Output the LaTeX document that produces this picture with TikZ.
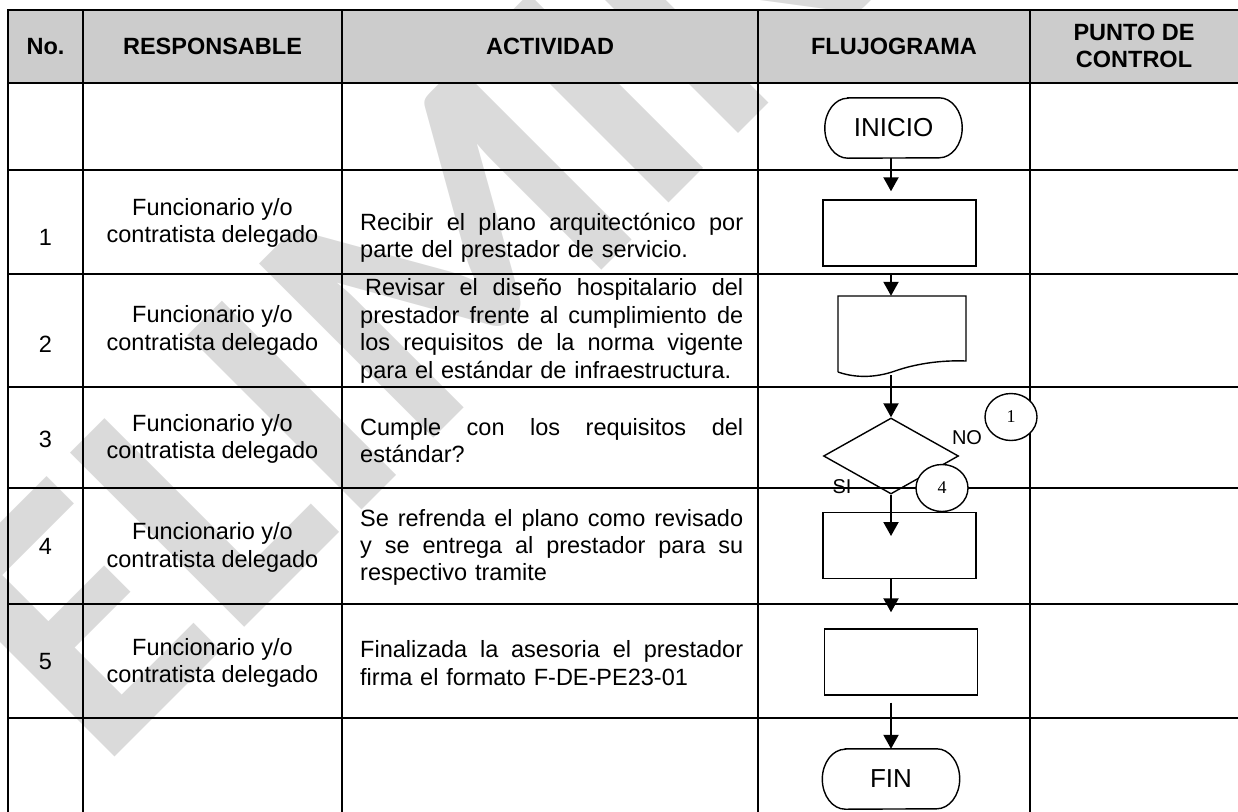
\documentclass[tikz,border=0pt]{standalone}
\usepackage{fontspec}
\setmainfont{Liberation Sans}
\newfontfamily\numserif{Liberation Serif}
\newfontfamily\wmfont{Carlito}
\usetikzlibrary{arrows.meta,shapes.geometric}
\definecolor{hdrgray}{RGB}{204,204,204}
\definecolor{wmgray}{RGB}{218,218,218}
\newcommand\jl[1]{\leavevmode\hbox to 383pt{\spaceskip=0.278em plus 1fil\relax #1}}
\begin{document}
\begin{tikzpicture}[x=1pt,y=-1pt,
  rule/.style={line width=2pt, line cap=rect},
  body/.style={font=\fontsize{23.5}{27.4}\selectfont, inner sep=0pt, align=center},
  head/.style={font=\bfseries\fontsize{23.5}{27.5}\selectfont, inner sep=0pt, align=center},
  act/.style={font=\fontsize{23.5}{27.4}\selectfont, inner sep=0pt, anchor=west, text width=383pt, align=left},
  proc/.style={draw, line width=1.4pt, inner sep=0pt, minimum width=153pt, minimum height=66pt},
  term/.style={inner sep=0pt, minimum width=137pt, minimum height=60pt, font=\fontsize{26}{26}\selectfont},
  termline/.style={line width=1.4pt},
  dec/.style={draw, diamond, line width=1.4pt, inner sep=0pt, minimum width=135pt, minimum height=76pt},
  conn/.style={draw, ellipse, fill=white, line width=1.4pt, inner sep=0pt, minimum width=52pt, minimum height=47pt, font=\numserif\fontsize{18}{18}\selectfont},
  lbl/.style={font=\fontsize{20}{20}\selectfont, inner sep=0pt},
  arr/.style={line width=2pt, -{Triangle[width=15pt,length=14pt]}},
  wm/.style={text=wmgray, font=\wmfont\bfseries\fontsize{380}{380}\selectfont, inner sep=0pt},
]
\useasboundingbox (0,0) rectangle (1238,811);
% watermark
\begin{scope}
  \clip (0,0) rectangle (1238,811);
  \node[wm, rotate=45, anchor=base west] (wmk) at (99,773) {ELIMINADO};
\end{scope}
% header background
\fill[hdrgray] (8,10) rectangle (1238,83);
% grid
\foreach \y in {10,83,170,274,387,488,604,718} \draw[rule] (8,\y) -- (1238,\y);
\foreach \x in {8,83,342,758,1030} \draw[rule] (\x,10) -- (\x,811);
% header
\node[head] (hno) at (45.5,46.5) {No.};
\node[head] (hresp) at (212.5,46.5) {RESPONSABLE};
\node[head] (hact) at (550,46.5) {ACTIVIDAD};
\node[head] (hflu) at (894,46.5) {FLUJOGRAMA};
\node[head] (hpc) at (1134,46) {PUNTO DE\\CONTROL};
% rows
\node[body] (n1) at (45.5,237) {1};
\node[body] (r1) at (212.5,223) {Funcionario y/o\\contratista delegado};
\node[act] (a1) at (360,237.5) {\jl{Recibir el plano arquitectónico por}\\parte del prestador de servicio.};
\node[body] (n2) at (45.5,344) {2};
\node[body] (r2) at (212.5,330.5) {Funcionario y/o\\contratista delegado};
\node[act] (a2) at (360,331) {\jl{\hspace*{5pt}Revisar el diseño hospitalario del}\\\jl{prestador frente al cumplimiento de}\\\jl{los requisitos de la norma vigente}\\para el estándar de infraestructura.};
\node[body] (n3) at (45.5,439.5) {3};
\node[body] (r3) at (212.5,439) {Funcionario y/o\\contratista delegado};
\node[act] (a3) at (360,440.5) {\jl{Cumple con los requisitos del}\\estándar?};
\node[body] (n4) at (45.5,546) {4};
\node[body] (r4) at (212.5,547.5) {Funcionario y/o\\contratista delegado};
\node[act] (a4) at (360,547.5) {\jl{Se refrenda el plano como revisado}\\\jl{y se entrega al prestador para su}\\respectivo tramite};
\node[body] (n5) at (45.5,662) {5};
\node[body] (r5) at (212.5,663) {Funcionario y/o\\contratista delegado};
\node[act] (a5) at (360,663) {\jl{Finalizada la asesoria el prestador}\\firma el formato F-DE-PE23-01};
% flowchart
\coordinate (ax) at (891,0);
\node[term] (ini) at (893.5,128) {INICIO};
\draw[termline] ([xshift=23pt]ini.north west) -- ([xshift=-23pt]ini.north east)
  arc[start angle=-90, end angle=90, x radius=23, y radius=30]
  -- ([xshift=23pt]ini.south west)
  arc[start angle=90, end angle=270, x radius=23, y radius=30] -- cycle;
\node[proc] (b1) at (899.5,233) {};
\node[inner sep=0pt, minimum width=128pt, minimum height=79pt] (b2) at (902,335.5) {};
\draw[line width=1.4pt] (838,372) -- (838,296) -- (966,296) -- (966,361)
  .. controls (940,360) and (915,364) .. (895,371)
  .. controls (875,378) and (855,378) .. (838,372);
\node[dec] (dia) at (891,456) {};
\node[proc] (b4) at (899.5,545.5) {};
\node[proc] (b5) at (901,662) {};
\node[term] (fin) at (891,779) {FIN};
\draw[termline] ([xshift=23pt]fin.north west) -- ([xshift=-23pt]fin.north east)
  arc[start angle=-90, end angle=90, x radius=23, y radius=30]
  -- ([xshift=23pt]fin.south west)
  arc[start angle=90, end angle=270, x radius=23, y radius=30] -- cycle;
\coordinate (t4) at (891,536);
\draw[arr, shorten >=8pt] (ini.south -| ax) -- (b1.north -| ax);
\draw[arr, shorten <=8pt] (b1.south -| ax) -- (b2.north -| ax);
\draw[arr] (b2.south -| ax) -- (dia.north);
\draw[arr] (dia.south) -- (t4);
\draw[arr, shorten >=16pt] (b4.south -| ax) -- (b5.north -| ax);
\draw[arr, shorten <=7pt] (b5.south -| ax) -- (fin.north);
\node[lbl] (no) at (967,438) {NO};
\node[lbl] (si) at (842,487) {SI};
\node[conn] (c1) at (1011,417) {1};
\node[conn] (c4) at (942,488) {4};
\end{tikzpicture}
\end{document}
